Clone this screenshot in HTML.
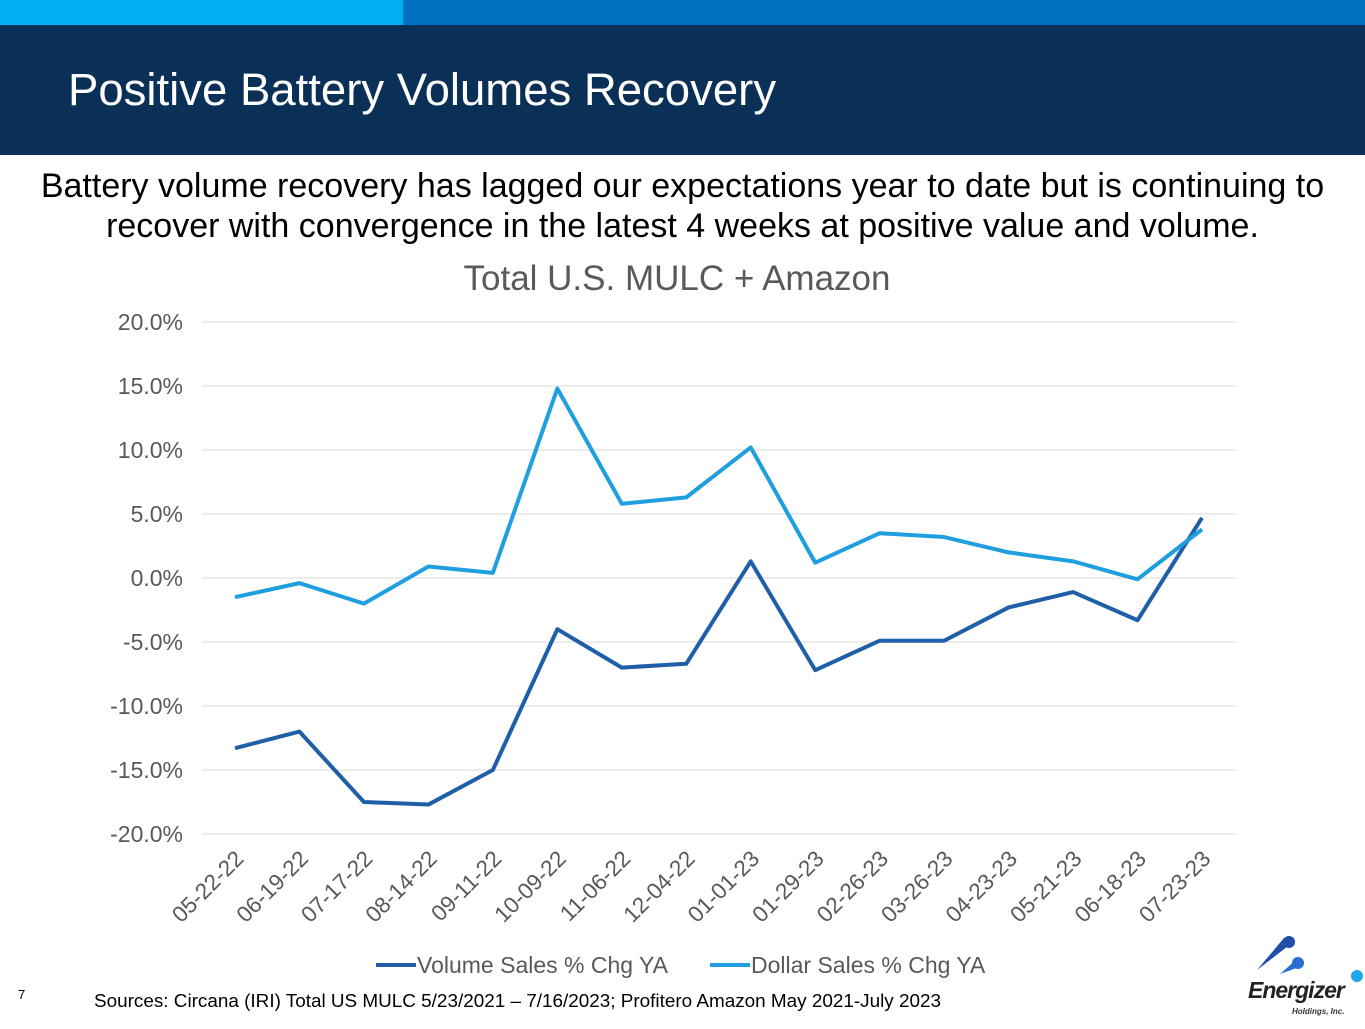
<!DOCTYPE html>
<html><head><meta charset="utf-8">
<style>
body{margin:0;width:1365px;height:1024px;background:#fff;position:relative;overflow:hidden;font-family:"Liberation Sans",Arial,sans-serif}
.abs{position:absolute}
</style></head><body>
<div class="abs" style="left:0;top:0;width:403px;height:25px;background:#00b0f0"></div>
<div class="abs" style="left:403px;top:0;width:962px;height:25px;background:#0070c0"></div>
<div class="abs" style="left:0;top:25px;width:1365px;height:130px;background:#0b3057"></div>
<div class="abs" style="left:68px;top:63px;font-size:45.5px;color:#fff;line-height:54px;white-space:nowrap">Positive Battery Volumes Recovery</div>
<div class="abs" style="left:0;top:166px;width:1365px;text-align:center;font-size:34px;line-height:40px;color:#000;white-space:nowrap">Battery volume recovery has lagged our expectations year to date but is continuing to<br>recover with convergence in the latest 4 weeks at positive value and volume.</div>
<svg class="abs" style="left:0;top:0" width="1365" height="1024" id="chart"></svg>
<div class="abs" style="left:18px;top:987px;font-size:13px">7</div>
<div class="abs" style="left:94px;top:991px;font-size:18.9px;white-space:nowrap">Sources: Circana (IRI) Total US MULC 5/23/2021 – 7/16/2023; Profitero Amazon May 2021-July 2023</div>
<div class="abs" style="left:1240px;top:930px;width:125px;height:94px">
<svg width="125" height="94"><polygon points="17,40 44,8 52,13" fill="#1f4fa8"/><circle cx="49" cy="12" r="6" fill="#1f4fa8"/><polygon points="40,44 56,30 62,36" fill="#2a6fd0"/><circle cx="58" cy="33" r="6" fill="#2a6fd0"/><circle cx="117" cy="46" r="6" fill="#1ea7ec"/>
<text x="8" y="68" font-size="23" font-weight="bold" font-style="italic" fill="#222" font-family="Liberation Sans" letter-spacing="-1">Energizer</text>
<text x="52" y="84" font-size="8" font-weight="bold" font-style="italic" fill="#333">Holdings, Inc.</text></svg></div>
<script>
const categories=["05-22-22","06-19-22","07-17-22","08-14-22","09-11-22","10-09-22","11-06-22","12-04-22","01-01-23","01-29-23","02-26-23","03-26-23","04-23-23","05-21-23","06-18-23","07-23-23"];
const volumeSales=[-13.3,-12.0,-17.5,-17.7,-15.0,-4.0,-7.0,-6.7,1.3,-7.2,-4.9,-4.9,-2.3,-1.1,-3.3,4.7];
const dollarSales=[-1.5,-0.4,-2.0,0.9,0.4,14.8,5.8,6.3,10.2,1.2,3.5,3.2,2.0,1.3,-0.1,3.8];
const yTicks=[20,15,10,5,0,-5,-10,-15,-20];
const NS="http://www.w3.org/2000/svg";
const svg=document.getElementById('chart');
const y=v=>578-v*12.8;
const x=i=>235+i*(1202-235)/(categories.length-1);
function el(t,a,txt){const e=document.createElementNS(NS,t);for(const k in a)e.setAttribute(k,a[k]);if(txt!=null)e.textContent=txt;svg.appendChild(e);return e;}
const ct=el('text',{x:677,y:290,'text-anchor':'middle','font-size':35,fill:'#595959','font-family':'Liberation Sans'},'Total U.S. MULC + Amazon');


yTicks.forEach(v=>{
 const g=el('line',{x1:202,x2:1235,y1:y(v),y2:y(v),stroke:'#d9d9d9','stroke-width':1});
 
 
 const t=el('text',{x:183,y:y(v)+8,'text-anchor':'end','font-size':23,fill:'#595959','font-family':'Liberation Sans'},v.toFixed(1)+'%');
 
 
});
categories.forEach((c,i)=>{
 const t=el('text',{x:x(i)+10,y:860,'text-anchor':'end','font-size':22.5,fill:'#595959','font-family':'Liberation Sans',transform:`rotate(-45 ${x(i)+10} 860)`},c);
 
 
});
function line(vals,color,name){
 const p=el('polyline',{points:vals.map((v,i)=>x(i)+','+y(v)).join(' '),fill:'none',stroke:color,'stroke-width':4,'stroke-linejoin':'round'});
 
 
}
line(volumeSales,'#1f5fa8','volume-sales-line');
line(dollarSales,'#1f9ee0','dollar-sales-line');
[[376,'#1f5fa8','Volume Sales % Chg YA'],[710,'#1f9ee0','Dollar Sales % Chg YA']].forEach(([lx,c,lab])=>{
 const l=el('line',{x1:lx,x2:lx+40,y1:965,y2:965,stroke:c,'stroke-width':4});
 
 
 const t=el('text',{x:lx+41,y:973,'font-size':23,fill:'#595959','font-family':'Liberation Sans'},lab);
 
 
});
</script>
</body></html>
